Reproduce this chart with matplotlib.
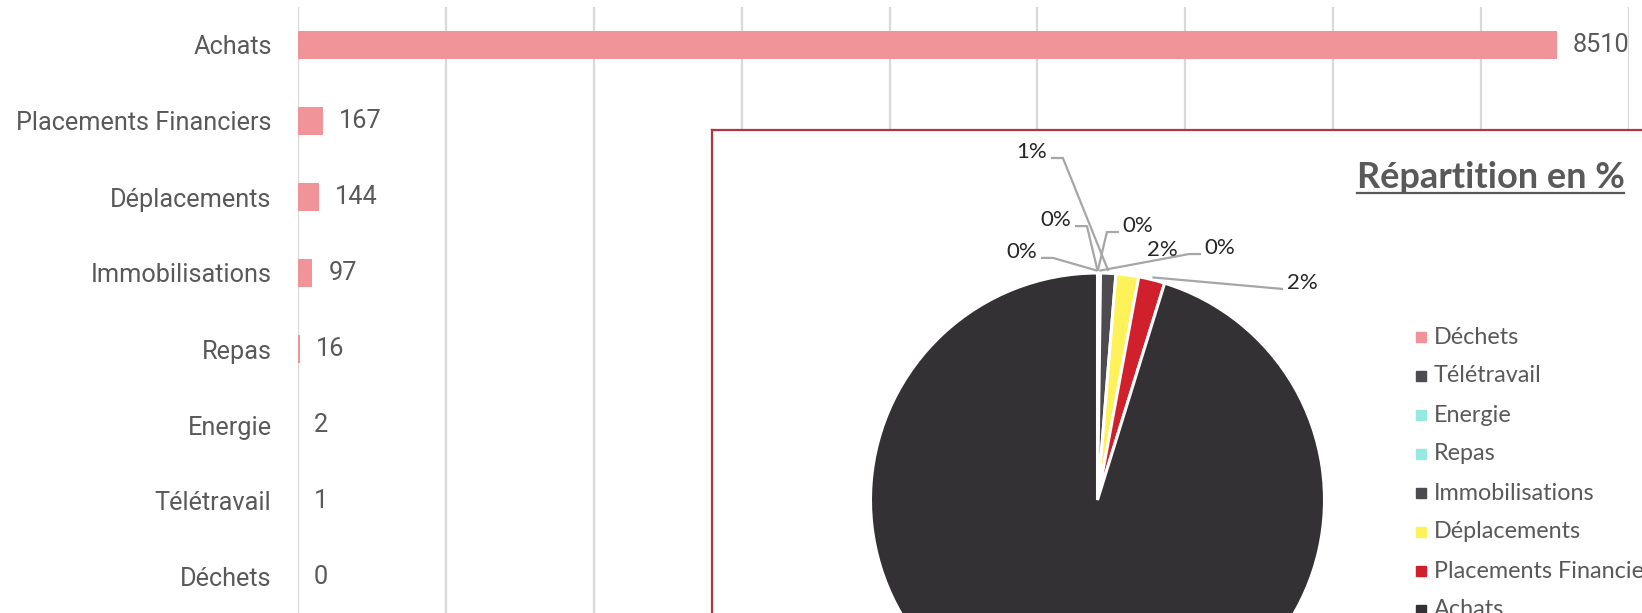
import numpy as np
import matplotlib
matplotlib.use("Agg")
import matplotlib.pyplot as plt
from matplotlib.lines import Line2D

# data, bottom to top of the bar chart
categories = ["Déchets", "Télétravail", "Energie", "Repas", "Immobilisations",
              "Déplacements", "Placements Financiers", "Achats"]
values = [0, 1, 2, 16, 97, 144, 167, 8510]
slice_colors = ["#F09499", "#4E4B50", "#96E9E1", "#96E9E1", "#4E4B50",
                "#FEF15A", "#D0202B", "#333134"]

W, H = 1642, 613
fig = plt.figure(figsize=(W / 100, H / 100), dpi=100)
fig.patch.set_facecolor("white")

def px_box(x0, y0, x1, y1):
    # pixel box (top-left origin) -> figure fraction rect
    return [x0 / W, 1 - y1 / H, (x1 - x0) / W, (y1 - y0) / H]

gray = "#595959"

# ---- bar chart ----
ax = fig.add_axes(px_box(298, 7, 1629, 615))
y = np.arange(len(categories))
ax.barh(y, values, height=0.36, color="#F09499", zorder=2)
ax.set_xlim(0, 9000)
ax.set_ylim(-0.5, len(categories) - 0.5)
ax.set_xticks(np.arange(0, 9001, 1000))
ax.set_xticklabels([])
ax.set_yticks(y)
ax.set_yticklabels(categories, fontfamily="Roboto", fontsize=18.2, color=gray)
ax.tick_params(axis="both", length=0)
ax.tick_params(axis="y", pad=19)
ax.grid(axis="x", color="#D9D9D9", linewidth=1.6, zorder=0)
for s in ax.spines.values():
    s.set_visible(False)
for yi, v in zip(y, values):
    ax.annotate(str(v), (v, yi), xytext=(16, 0), textcoords="offset pixels",
                ha="left", va="center", fontfamily="Roboto", fontsize=18.2, color=gray)

# ---- pie chart box ----
box = fig.add_axes(px_box(712, 130, 1750, 720))
box.set_facecolor("white")
box.set_xticks([])
box.set_yticks([])
for s in box.spines.values():
    s.set_color("#B73340")
    s.set_linewidth(1.6)

cx, cy, r = 1097.5, 500, 227
half = 420
pax = fig.add_axes(px_box(cx - half, cy - half, cx + half, cy + half))
wedges, _ = pax.pie(values, colors=slice_colors, startangle=90, counterclock=False,
                    radius=1, wedgeprops=dict(edgecolor="white", linewidth=2.2))
pax.set_xlim(-half / r, half / r)
pax.set_ylim(-half / r, half / r)
pax.axis("off")

total = sum(values)
# label text positions in pie units, and which side the leader line leaves from
label_pos = {
    "Déchets": (-0.333, 1.093, "r"),
    "Télétravail": (-0.183, 1.233, "r"),
    "Energie": (0.178, 1.207, "l"),
    "Repas": (0.540, 1.110, "l"),
    "Immobilisations": (-0.289, 1.533, "r"),
    "Déplacements": (0.284, 1.101, None),
    "Placements Financiers": (0.901, 0.956, "l"),
}
for w, name, v in zip(wedges, categories, values):
    pct = "%d%%" % round(v / total * 100)
    mid = np.deg2rad((w.theta1 + w.theta2) / 2)
    ax_, ay_ = np.cos(mid), np.sin(mid)
    if name in label_pos:
        tx, ty, side = label_pos[name]
    else:
        tx, ty, side = 1.18 * ax_, 1.18 * ay_, None
    pax.text(tx, ty, pct, ha="center", va="center", fontfamily="Lato",
             fontsize=16, color="#262626", clip_on=False)
    if side is not None:
        hw = 17 / r
        ly = ty - 6 / r
        if side == "r":
            x0 = tx + hw + 2 / r
            x1 = x0 + 12 / r
        else:
            x0 = tx - hw - 2 / r
            x1 = x0 - 12 / r
        if name == "Placements Financiers":
            x1 = x0
        pax.plot([x0, x1, ax_ * 1.01], [ly, ly, ay_ * 1.01], color="#A6A6A6",
                 linewidth=1.6, solid_capstyle="butt", clip_on=False)

# title with underline
title = fig.text(1490.5 / W, 1 - 178 / H, "Répartition en %", ha="center", va="center",
                 fontfamily="Lato", fontweight="bold", fontsize=26, color=gray)
fig.canvas.draw()
bb = title.get_window_extent(fig.canvas.get_renderer())
uy = (bb.y0 + 2) / H
fig.add_artist(Line2D([bb.x0 / W, bb.x1 / W], [uy, uy], transform=fig.transFigure,
                      color=gray, linewidth=1.6))

# legend, top to bottom in slice order
for i, (name, c) in enumerate(zip(categories, slice_colors)):
    yy = 1 - (337 + 39 * i) / H
    fig.add_artist(Line2D([1421 / W], [yy], transform=fig.transFigure, marker="s",
                          markersize=6.7, color=c, linestyle="none"))
    fig.text(1434 / W, yy, name, ha="left", va="center", fontfamily="Lato",
             fontsize=16.8, color=gray)

fig.savefig("out.png", dpi=100)
